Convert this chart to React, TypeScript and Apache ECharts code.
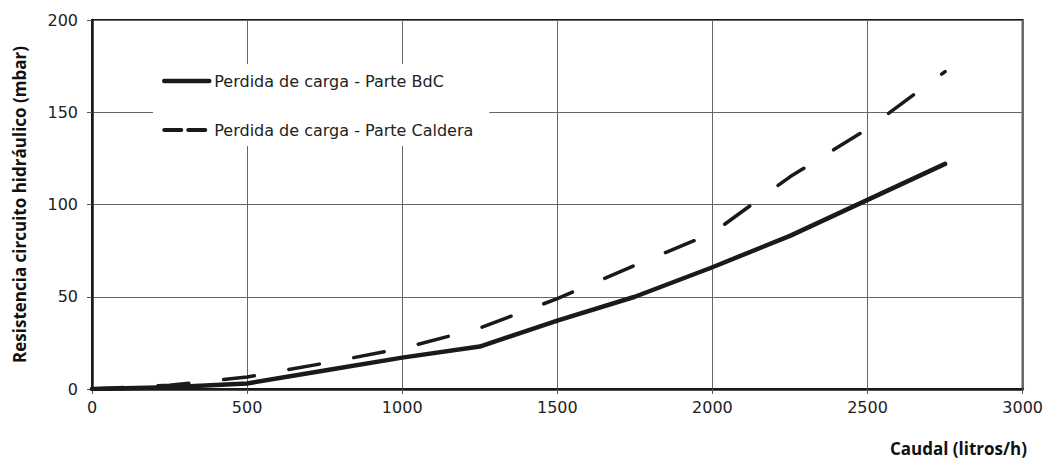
import React, { useEffect, useRef } from "react";
import * as echarts from "echarts";

const xValues = [0, 250, 500, 750, 1000, 1250, 1500, 1750, 2000, 2250, 2500, 2750];
const bdcValues = [0, 1, 3, 10, 17, 23, 37, 50, 66, 83, 102.5, 122];
const calderaValues = [0, 2, 6.5, 14, 22, 33, 49, 67, 84.5, 115, 141, 172];
const seriesNames = ["Perdida de carga - Parte BdC", "Perdida de carga - Parte Caldera"];
const xAxisTitle = "Caudal (litros/h)";
const yAxisTitle = "Resistencia circuito hidráulico (mbar)";

export default function App() {
  const ref = useRef<HTMLDivElement>(null);
  useEffect(() => {
    if (!ref.current) return;
    const chart = echarts.init(ref.current, undefined, { renderer: "svg" });
    const font = "'DejaVu Sans', 'Noto Sans', sans-serif";
    const boldFont = "'Open Sans', 'Noto Sans', sans-serif";
    chart.setOption({
      animation: false,
      backgroundColor: "#fff",
      grid: {
        left: 92,
        right: 22,
        top: 20,
        bottom: 72,
        show: true,
        borderColor: "#1a1a1a",
        borderWidth: 2,
        containLabel: false,
      },
      xAxis: {
        type: "value",
        min: 0,
        max: 3000,
        interval: 500,
        axisLine: { show: true, onZero: false, lineStyle: { color: "#1a1a1a", width: 2.5 } },
        axisTick: { show: true, length: 5, lineStyle: { color: "#555", width: 1 } },
        axisLabel: {
          color: "#222",
          fontSize: 16,
          fontFamily: font,
          margin: 10,
          formatter: (v: number) => String(v),
        },
        splitLine: { show: true, lineStyle: { color: "#666", width: 1 } },
      },
      yAxis: {
        type: "value",
        min: 0,
        max: 200,
        interval: 50,
        name: yAxisTitle,
        nameLocation: "middle",
        nameGap: 64,
        nameTextStyle: { color: "#111", fontSize: 17, fontWeight: "bold", fontFamily: boldFont },
        axisLine: { show: true, lineStyle: { color: "#1a1a1a", width: 2.5 } },
        axisTick: { show: true, length: 5, lineStyle: { color: "#555", width: 1 } },
        axisLabel: {
          color: "#222",
          fontSize: 16,
          fontFamily: font,
          margin: 14,
          formatter: (v: number) => String(v),
        },
        splitLine: { show: true, lineStyle: { color: "#666", width: 1 } },
      },
      legend: {
        orient: "vertical",
        left: 153,
        top: 64,
        backgroundColor: "#fff",
        padding: [9, 16, 8, 9],
        itemWidth: 45,
        itemHeight: 14,
        itemGap: 33,
        textStyle: { color: "#222", fontSize: 16, fontFamily: font },
        itemStyle: { opacity: 0 },
        data: [
          { name: seriesNames[0], itemStyle: { opacity: 0 }, lineStyle: { width: 4.5, type: "solid" } },
          { name: seriesNames[1], itemStyle: { opacity: 0 }, lineStyle: { width: 4, type: [17, 7] } },
        ],
      },
      graphic: [
        {
          type: "text",
          right: 19,
          top: 440,
          style: {
            text: xAxisTitle,
            fill: "#111",
            fontSize: 17,
            fontWeight: "bold",
            fontFamily: boldFont,
          },
        },
      ],
      series: [
        {
          name: seriesNames[0],
          type: "line",
          data: xValues.map((x, i) => [x, bdcValues[i]]),
          showSymbol: false,
          symbol: "none",
          lineStyle: { color: "#1a1a1a", width: 4.5, cap: "round", join: "round" },
          itemStyle: { color: "#1a1a1a" },
        },
        {
          name: seriesNames[1],
          type: "line",
          data: xValues.map((x, i) => [x, calderaValues[i]]),
          showSymbol: false,
          symbol: "none",
          lineStyle: { color: "#1a1a1a", width: 3.5, type: [31, 35], cap: "round", join: "round" },
          itemStyle: { color: "#1a1a1a" },
        },
      ],
    });
    return () => chart.dispose();
  }, []);
  return (
    <div
      ref={ref}
      style={{ position: "fixed", left: 0, top: 0, width: 1046, height: 461, background: "#fff" }}
    />
  );
}
